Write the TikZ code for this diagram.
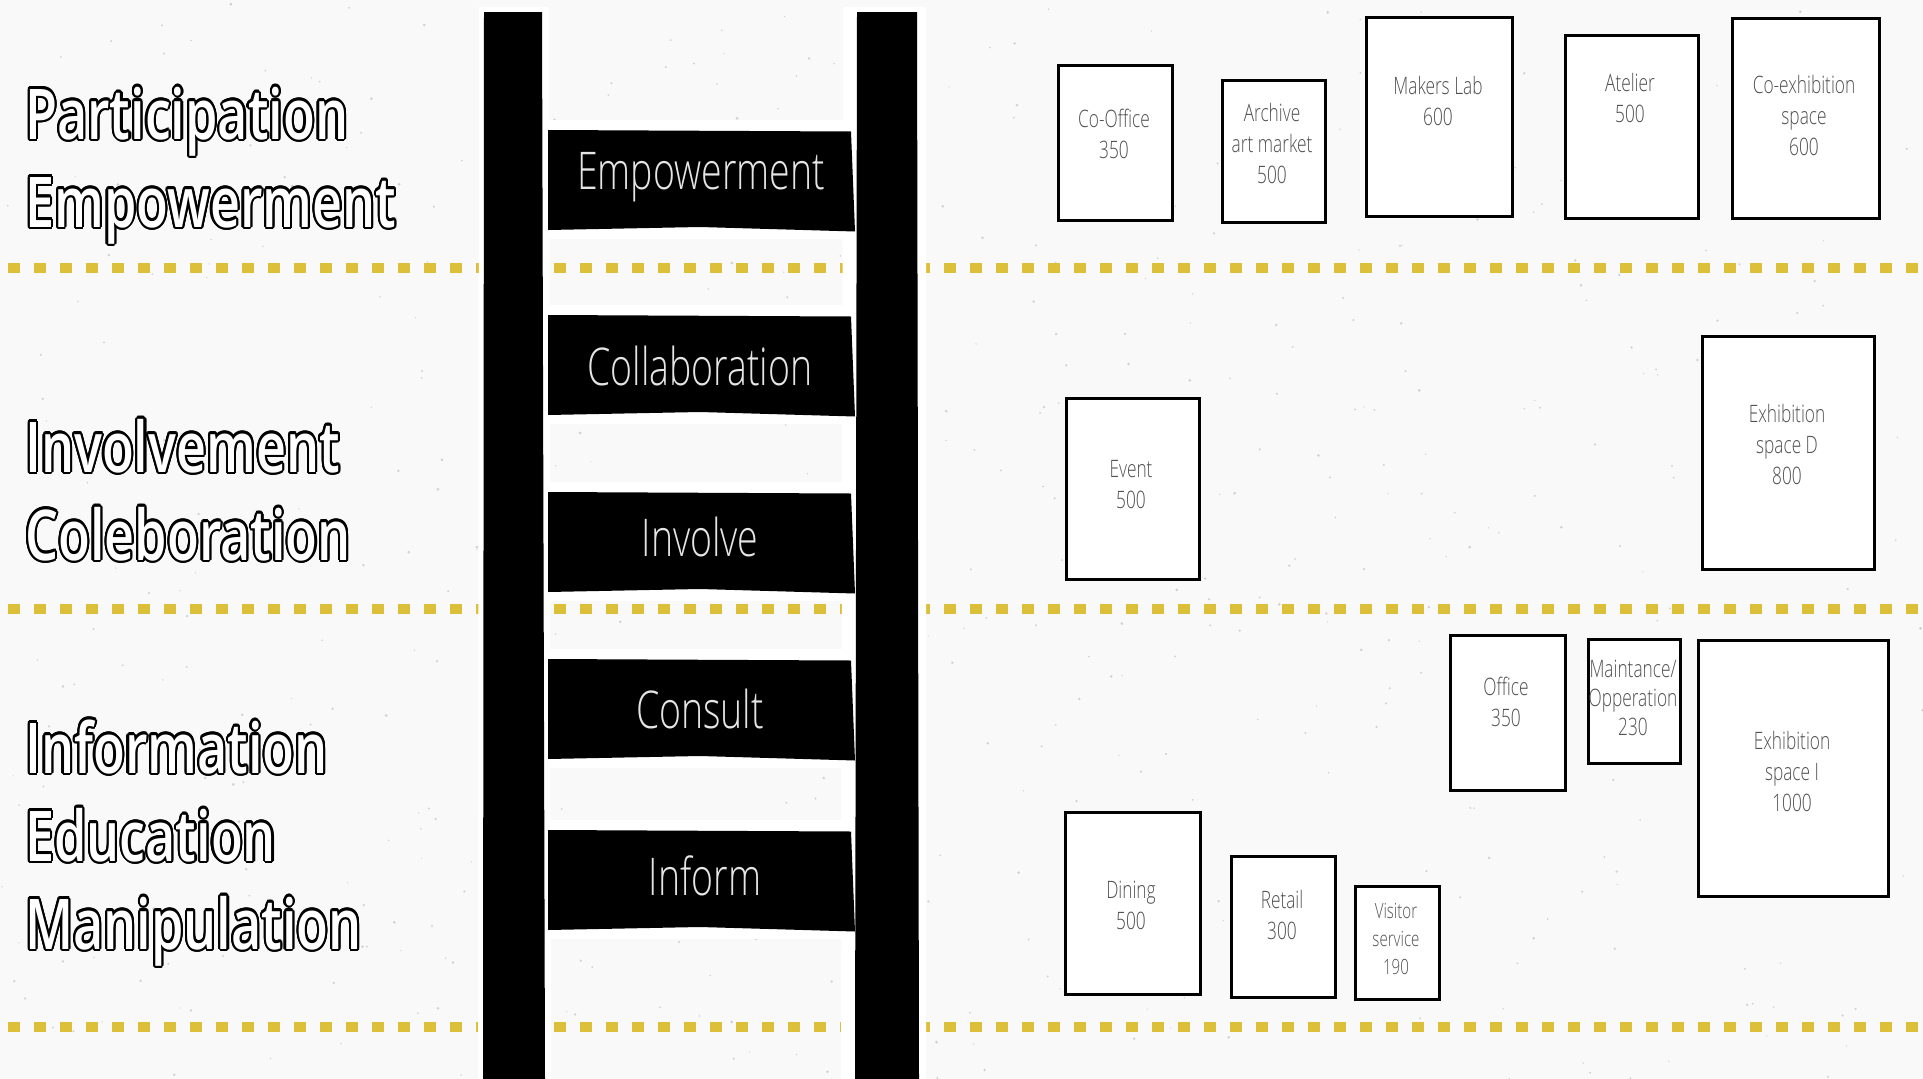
\documentclass[tikz,border=0pt]{standalone}
\usepackage{fontspec}
\usepackage{contour}
\usepackage{tikz}
\usetikzlibrary{positioning}

\IfFontExistsTF{Open Sans Light}
  {\newfontfamily\rungfont{Open Sans Light}[FakeStretch=0.72]}
  {\newfontfamily\rungfont{Open Sans}[FakeStretch=0.72]}
\IfFontExistsTF{Open Sans Semibold}
  {\newfontfamily\levelfont{Open Sans Semibold}[FakeStretch=0.745]}
  {\newfontfamily\levelfont{Open Sans}[FakeStretch=0.745]}

\definecolor{paper}{RGB}{249,249,249}
\definecolor{ochre}{RGB}{221,192,58}
\definecolor{roomgrey}{RGB}{80,80,80}
\contourlength{2.2pt}

\begin{document}
\begin{tikzpicture}[
    x=1pt, y=-1pt,
    level/.style={anchor=base west, inner sep=0pt, text=white, font=\levelfont\fontsize{70}{80}\selectfont},
    rungtext/.style={anchor=base, inner sep=0pt, text=white!90!black, font=\rungfont\fontsize{52}{60}\selectfont},
    room/.style={rectangle, draw=black, line width=2.5pt, fill=white, anchor=north west, inner sep=0pt},
    roomtext/.style={align=center, text=roomgrey, font=\rungfont\fontsize{24}{31}\selectfont},
    divider/.style={draw=ochre, line width=10pt, dash pattern=on 12pt off 14pt}
    ]

    % Paper
    \fill[paper] (0,0) rectangle (1923,1079);
    \useasboundingbox (0,0) rectangle (1923,1079);
    \pgfmathsetseed{7}
    \foreach \i in {1,...,600}
        \fill[black!18] (rnd*1923,rnd*1079) circle (0.6+rnd*0.9);

    % Level dividers
    \foreach \yy in {268,609,1027}
        \draw[divider] (8,\yy) -- (1923,\yy);

    % Ladder halos
    \fill[white] (479,7) -- (549,7) -- (551,1079) -- (478,1079) -- cycle;
    \fill[white] (843,7) -- (926,7) -- (926,1079) -- (841,1079) -- cycle;
    \foreach \top in {130,315,492,659,830}
        \fill[white] (541,\top-10) rectangle (858,\top+109);

    % Rails
    \fill[black] (484,12) -- (542,12) -- (545,1079) -- (483,1079) -- cycle;
    \fill[black] (857,12) -- (917,12) -- (919,1079) -- (855,1079) -- cycle;

    % Rungs
    \foreach \top in {130,315,492,659,830}
        \fill[black] (548,\top) -- (851,\top+1.5) -- (855,\top+101.5) -- (700,\top+97) -- (548,\top+100) -- cycle;
    \node[rungtext] (empowerment) at (701,189) {Empowerment};
    \node[rungtext] (collaboration) at (700,385) {Collaboration};
    \node[rungtext] (involve) at (700,556) {Involve};
    \node[rungtext] (consult) at (700,728) {Consult};
    \node[rungtext] (inform) at (705,895) {Inform};

    % Levels
    \node[level] (participation-l) at (25,139) {\contour{black}{Participation}};
    \node[level] (empowerment-l) at (25,227) {\contour{black}{Empowerment}};
    \node[level] (involvement-l) at (25,472) {\contour{black}{Involvement}};
    \node[level] (coleboration-l) at (25,560) {\contour{black}{Coleboration}};
    \node[level] (information-l) at (25,773) {\contour{black}{Information}};
    \node[level] (education-l) at (25,861) {\contour{black}{Education}};
    \node[level] (manipulation-l) at (25,949) {\contour{black}{Manipulation}};

    % Rooms: top level
    \node[room, minimum width=114, minimum height=155] (cooffice) at (1057,64) {};
    \node[roomtext] (cooffice-t) at (1114,134) {Co-Office\\350};
    \node[room, minimum width=103, minimum height=142] (archive) at (1221,79) {};
    \node[roomtext] (archive-t) at (1272,143) {Archive\\art market\\500};
    \node[room, minimum width=146, minimum height=199] (makers) at (1365,16) {};
    \node[roomtext] (makers-t) at (1438,101) {Makers Lab\\600};
    \node[room, minimum width=133, minimum height=183] (atelier) at (1564,34) {};
    \node[roomtext] (atelier-t) at (1630,98) {Atelier\\500};
    \node[room, minimum width=147, minimum height=200] (coexhib) at (1731,17) {};
    \node[roomtext] (coexhib-t) at (1804,115) {Co-exhibition\\space\\600};

    % Rooms: middle level
    \node[room, minimum width=133, minimum height=181] (event) at (1065,397) {};
    \node[roomtext] (event-t) at (1131,485) {Event\\500};
    \node[room, minimum width=172, minimum height=233] (exhibd) at (1701,335) {};
    \node[roomtext] (exhibd-t) at (1787,444) {Exhibition\\space D\\800};

    % Rooms: bottom level
    \node[room, minimum width=115, minimum height=155] (office) at (1449,634) {};
    \node[roomtext] (office-t) at (1506,702) {Office\\350};
    \node[room, minimum width=92, minimum height=124] (maint) at (1587,638) {};
    \node[roomtext, font=\rungfont\fontsize{24}{29}\selectfont] (maint-t) at (1633,698) {Maintance/\\Opperation\\230};
    \node[room, minimum width=190, minimum height=256] (exhibi) at (1697,639) {};
    \node[roomtext] (exhibi-t) at (1792,771) {Exhibition\\space I\\1000};
    \node[room, minimum width=135, minimum height=182] (dining) at (1064,811) {};
    \node[roomtext] (dining-t) at (1131,905) {Dining\\500};
    \node[room, minimum width=104, minimum height=141] (retail) at (1230,855) {};
    \node[roomtext] (retail-t) at (1282,915) {Retail\\300};
    \node[room, minimum width=84, minimum height=113] (visitor) at (1354,885) {};
    \node[roomtext, font=\rungfont\fontsize{21}{28}\selectfont] (visitor-t) at (1396,939) {Visitor\\service\\190};
\end{tikzpicture}
\end{document}
